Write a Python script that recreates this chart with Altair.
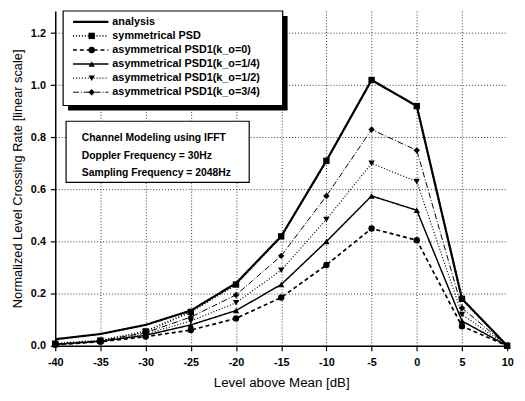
import altair as alt
import pandas as pd

# ---- data ----
levels = [-40, -35, -30, -25, -20, -15, -10, -5, 0, 5, 10]
analysis = [0.025, 0.045, 0.08, 0.135, 0.24, 0.42, 0.71, 1.02, 0.92, 0.18, 0.0]
sym_psd = [0.008, 0.02, 0.055, 0.13, 0.235, 0.42, 0.71, 1.02, 0.92, 0.18, 0.0]
k_0 = [0.004, 0.015, 0.035, 0.06, 0.105, 0.185, 0.31, 0.45, 0.405, 0.075, 0.0]
k_14 = [0.005, 0.017, 0.04, 0.08, 0.135, 0.235, 0.40, 0.575, 0.52, 0.095, 0.0]
k_12 = [0.006, 0.018, 0.045, 0.095, 0.165, 0.29, 0.485, 0.70, 0.63, 0.12, 0.0]
k_34 = [0.007, 0.019, 0.05, 0.11, 0.195, 0.345, 0.575, 0.83, 0.75, 0.145, 0.0]

names = ["analysis", "symmetrical PSD", "asymmetrical PSD1(k_o=0)",
         "asymmetrical PSD1(k_o=1/4)", "asymmetrical PSD1(k_o=1/2)",
         "asymmetrical PSD1(k_o=3/4)"]
values = [analysis, sym_psd, k_0, k_14, k_12, k_34]
dashes = [[1, 0], [1, 2], [4, 3], [1, 0], [1, 2], [6, 2, 1, 2]]
widths = [2.2, 1, 1, 1, 1, 1]
marker_names = names[1:]
marker_shapes = ["square", "circle", "triangle-up", "triangle-down", "diamond"]
marker_sizes = [42, 42, 42, 42, 80]

info_lines = ["Channel Modeling using IFFT", "Doppler Frequency = 30Hz",
              "Sampling Frequency = 2048Hz"]

rows = []
for n, vals in zip(names, values):
    for lv, v in zip(levels, vals):
        rows.append({"series": n, "level": lv, "rate": v})
df = pd.DataFrame(rows)

FONT = "Liberation Sans"
W, H = 459, 340

dash_scale = alt.Scale(domain=names, range=dashes)
width_scale = alt.Scale(domain=names, range=widths)
shape_scale = alt.Scale(domain=marker_names, range=marker_shapes)
size_scale = alt.Scale(domain=marker_names, range=marker_sizes)

x_vals = [-40 + 2.5 * i for i in range(21)]
y_vals = [round(0.1 * i, 1) for i in range(13)]

xaxis = alt.Axis(
    values=x_vals,
    labelExpr="datum.value % 5 == 0 ? '' + datum.value : ''",
    tickSize={"condition": {"test": "datum.value % 5 != 0", "value": 3}, "value": 5},
    grid=True,
    gridOpacity={"condition": {"test": "datum.value % 5 != 0 || datum.value == -40 || datum.value == 10", "value": 0}, "value": 1},
    gridDash=[1, 2], gridColor="black", gridWidth=0.8,
    domainColor="black", domainWidth=1.5, tickColor="black", tickWidth=1.2,
    labelFont=FONT, labelFontSize=11, labelFontWeight="bold", labelColor="black",
    labelPadding=6, labelFlush=False, labelOverlap=False,
    titleFont=FONT, titleFontSize=13.5, titleFontWeight="normal", titleColor="black",
    titlePadding=8,
)
yaxis = alt.Axis(
    values=y_vals,
    labelExpr="round(datum.value * 10) % 2 == 0 ? format(datum.value, '.1f') : ''",
    tickSize={"condition": {"test": "round(datum.value * 10) % 2 != 0", "value": 3}, "value": 5},
    grid=True,
    gridOpacity={"condition": {"test": "round(datum.value * 10) % 2 != 0 || datum.value == 0", "value": 0}, "value": 1},
    gridDash=[1, 2], gridColor="black", gridWidth=0.8,
    domainColor="black", domainWidth=1.5, tickColor="black", tickWidth=1.2,
    labelFont=FONT, labelFontSize=11, labelFontWeight="bold", labelColor="black",
    labelPadding=5, labelOverlap=False,
    titleFont=FONT, titleFontSize=13, titleFontWeight="normal", titleColor="black",
    titlePadding=6,
)

base = alt.Chart(df)
lines = base.mark_line(color="black").encode(
    x=alt.X("level:Q", scale=alt.Scale(domain=[-40, 10], nice=False, zero=False),
            axis=xaxis, title="Level above Mean [dB]"),
    y=alt.Y("rate:Q", scale=alt.Scale(domain=[0, 1.285], nice=False),
            axis=yaxis, title="Normalized Level Crossing Rate [linear scale]"),
    strokeDash=alt.StrokeDash("series:N", scale=dash_scale, legend=None),
    strokeWidth=alt.StrokeWidth("series:O", scale=width_scale, legend=None),
    detail="series:N",
)
points = base.mark_point(filled=True, opacity=1, color="black").encode(
    x="level:Q",
    y="rate:Q",
    shape=alt.Shape("series:N", scale=shape_scale, legend=None),
    size=alt.Size("series:O", scale=size_scale, legend=None),
).transform_filter(alt.datum.series != "analysis")

# ---- hand-drawn legend box (pixel positions inside the plot area) ----
leg_df = pd.DataFrame({"series": names, "ly": [11 + 14.3 * i for i in range(len(names))]})
box_df = pd.DataFrame({"x0": [8], "x1": [231], "y0": [0], "y1": [96]})
shadow = alt.Chart(box_df).mark_rect(color="black").encode(
    x=alt.X("sx0:Q", scale=None), x2="sx1:Q",
    y=alt.Y("sy0:Q", scale=None), y2="sy1:Q",
).transform_calculate(sx0="datum.x0 + 5", sx1="datum.x1 + 5",
                      sy0="datum.y0 + 5", sy1="datum.y1 + 5")
box = alt.Chart(box_df).mark_rect(fill="white", stroke="black", strokeWidth=1.2).encode(
    x=alt.X("x0:Q", scale=None), x2="x1:Q",
    y=alt.Y("y0:Q", scale=None), y2="y1:Q",
)
leg_lines = alt.Chart(leg_df).mark_rule(color="black").encode(
    x=alt.value(18), x2=alt.value(54),
    y=alt.Y("ly:Q", scale=None),
    strokeDash=alt.StrokeDash("series:N", scale=dash_scale, legend=None),
    strokeWidth=alt.StrokeWidth("series:O", scale=width_scale, legend=None),
)
leg_pts = alt.Chart(leg_df).mark_point(filled=True, opacity=1, color="black").encode(
    x=alt.value(37),
    y=alt.Y("ly:Q", scale=None),
    shape=alt.Shape("series:N", scale=shape_scale, legend=None),
    size=alt.Size("series:O", scale=size_scale, legend=None),
).transform_filter(alt.datum.series != "analysis")
leg_text = alt.Chart(leg_df).mark_text(align="left", baseline="middle", font=FONT,
                                       fontSize=11, fontWeight="bold", color="black").encode(
    x=alt.value(58),
    y=alt.Y("ly:Q", scale=None),
    text="series:N",
)

# ---- info box ----
info_df = pd.DataFrame({"line": info_lines, "ty": [129, 147, 165]})
ibox_df = pd.DataFrame({"x0": [11], "x1": [197], "y0": [112], "y1": [174]})
ibox = alt.Chart(ibox_df).mark_rect(fill="white", stroke="black", strokeWidth=1.2).encode(
    x=alt.X("x0:Q", scale=None), x2="x1:Q",
    y=alt.Y("y0:Q", scale=None), y2="y1:Q",
)
itext = alt.Chart(info_df).mark_text(align="left", baseline="middle", font=FONT,
                                     fontSize=10.5, fontWeight="bold", color="black").encode(
    x=alt.value(27),
    y=alt.Y("ty:Q", scale=None),
    text="line:N",
)

chart = alt.layer(lines, points, shadow, box, leg_lines, leg_pts, leg_text, ibox, itext).properties(
    width=W, height=H,
    autosize=alt.AutoSizeParams(type="none"),
    padding={"left": 48, "top": 0, "right": 10, "bottom": 47},
    background="white",
).configure_view(stroke=None)

chart.save("out.html", embed_options={"renderer": "svg", "actions": False})
